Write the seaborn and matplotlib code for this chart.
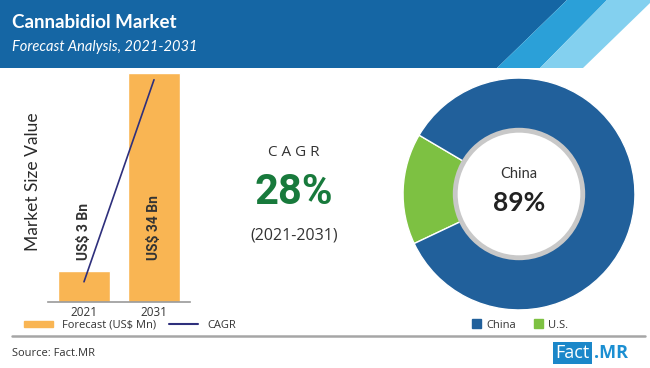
import seaborn as sns
import numpy as np
import pandas as pd
import matplotlib.pyplot as plt
from matplotlib.patches import Polygon, Rectangle, Circle, Patch
from matplotlib.lines import Line2D

# data
years = ["2021", "2031"]
bar_labels = ["US$ 3 Bn", "US$ 34 Bn"]
bar_height = [4.6, 34]          # drawn heights (infographic, not to scale)
cagr_line = [3, 33]
regions = ["China", "U.S."]
region_share = [84.5, 15.5]     # slice sizes as drawn
china_label = "89%"
cagr_value = "28%"
cagr_period = "(2021-2031)"

orange = "#f9b553"
navy = "#2e2f7c"
china_c = "#21609b"
us_c = "#7dc142"
green = "#187a3c"
text_c = "#333333"

sns.set_style("white")
plt.rcParams['font.family'] = ['Open Sans', 'DejaVu Sans']

fig = plt.figure(figsize=(6.5, 3.68), dpi=100)

# background / header in pixel coords
bg = fig.add_axes([0, 0, 1, 1], zorder=0)
bg.set_xlim(0, 650)
bg.set_ylim(368, 0)
bg.axis("off")
bg.add_patch(Polygon([(0, 0), (567, 0), (497, 68), (0, 68)], color="#1566a4", lw=0))
bg.add_patch(Polygon([(567, 0), (607, 0), (540, 68), (497, 68)], color="#2ba0d8", lw=0))
bg.add_patch(Polygon([(607, 0), (650, 0), (650, 3), (583, 68), (540, 68)], color="#83d0ef", lw=0))
bg.text(12, 22, "Cannabidiol Market", color="white", fontsize=13.5, fontweight="bold",
        family="Lato", va="center")
bg.text(12, 47, "Forecast Analysis, 2021-2031", color="white", fontsize=10.5,
        style="italic", family="Lato", va="center")

# CAGR block
bg.text(294, 153, "C A G R", color=text_c, fontsize=11, ha="center", va="center")
bg.text(294, 193, cagr_value, color=green, fontsize=30, fontweight="bold",
        family="Roboto", ha="center", va="center")
bg.text(294, 235, cagr_period, color=text_c, fontsize=11.5, ha="center", va="center")

bg.text(33, 182, "Market Size Value", color="#2a2a2a", fontsize=12.5, rotation=90,
        ha="center", va="center", family="Lato")

# separator + footer
bg.plot([12, 645], [336, 336], color="#a6a6a6", lw=1.8)
bg.text(12, 353, "Source: Fact.MR", color=text_c, fontsize=8, va="center")
bg.add_patch(Rectangle((553, 342), 39, 22, color="#1b87c9", lw=0))
bg.text(572, 353, "Fact", color="white", fontsize=13, ha="center", va="center")
bg.text(594, 353, ".MR", color="#1b8fd2", fontsize=13, fontweight="bold", va="center")

# bar chart
ax = fig.add_axes([48 / 650, 66 / 368, 142 / 650, 229 / 368], zorder=2)
ax.patch.set_alpha(0)
df = pd.DataFrame({"year": years, "height": bar_height})
sns.barplot(data=df, x="year", y="height", color=orange, saturation=1,
            width=0.74, ax=ax)
sns.lineplot(x=[0, 1], y=cagr_line, color=navy, lw=1.2, ax=ax)
for i, lab in enumerate(bar_labels):
    ax.text(i, 6.2, lab, rotation=90, ha="center", va="bottom", fontsize=10,
            fontweight="bold", family="Roboto", color=text_c)
ax.set_xlim(-0.514, 1.514)
ax.set_ylim(0, 34)
ax.set_xlabel("")
ax.set_ylabel("")
ax.set_yticks([])
sns.despine(ax=ax, left=True)
ax.spines["bottom"].set_color("#999999")
ax.spines["bottom"].set_linewidth(1.2)
ax.tick_params(axis="x", length=0, pad=3, labelsize=8.5, labelcolor=text_c)

# donut
axp = fig.add_axes([(519 - 120) / 650, (368 - 194 - 120) / 368, 240 / 650, 240 / 368], zorder=2)
axp.pie(region_share[::-1], colors=[us_c, china_c], startangle=149.5,
        wedgeprops=dict(width=0.48, edgecolor="white", linewidth=1))
axp.add_patch(Circle((0, 0), 0.55, facecolor="white", edgecolor="#c8c8c8", lw=3.5))
axp.text(0, 0.17, "China", ha="center", va="center", fontsize=10.5, color=text_c,
         family="Lato")
axp.text(0, -0.08, china_label, ha="center", va="center", fontsize=19,
         fontweight="bold", color="#222222", family="Lato")
axp.set_xlim(-1.035, 1.035)
axp.set_ylim(-1.035, 1.035)
axp.set_aspect("equal")

# legends
h1 = [Patch(color=orange), Line2D([], [], color=navy, lw=1.5)]
fig.legend(h1, ["Forecast (US$ Mn)", "CAGR"], loc="center left",
           bbox_to_anchor=(14 / 650, 1 - 325 / 368), ncol=2, frameon=False,
           fontsize=8, handlelength=2.6, handleheight=0.45, columnspacing=1.2,
           handletextpad=0.8, labelcolor=text_c)
h2 = [Patch(color=china_c), Patch(color=us_c)]
fig.legend(h2, regions, loc="center left",
           bbox_to_anchor=(462 / 650, 1 - 325 / 368), ncol=2, frameon=False,
           fontsize=8, handlelength=0.8, handleheight=0.8, columnspacing=1.6,
           handletextpad=0.5, labelcolor=text_c)

fig.savefig("out.png", dpi=100)
